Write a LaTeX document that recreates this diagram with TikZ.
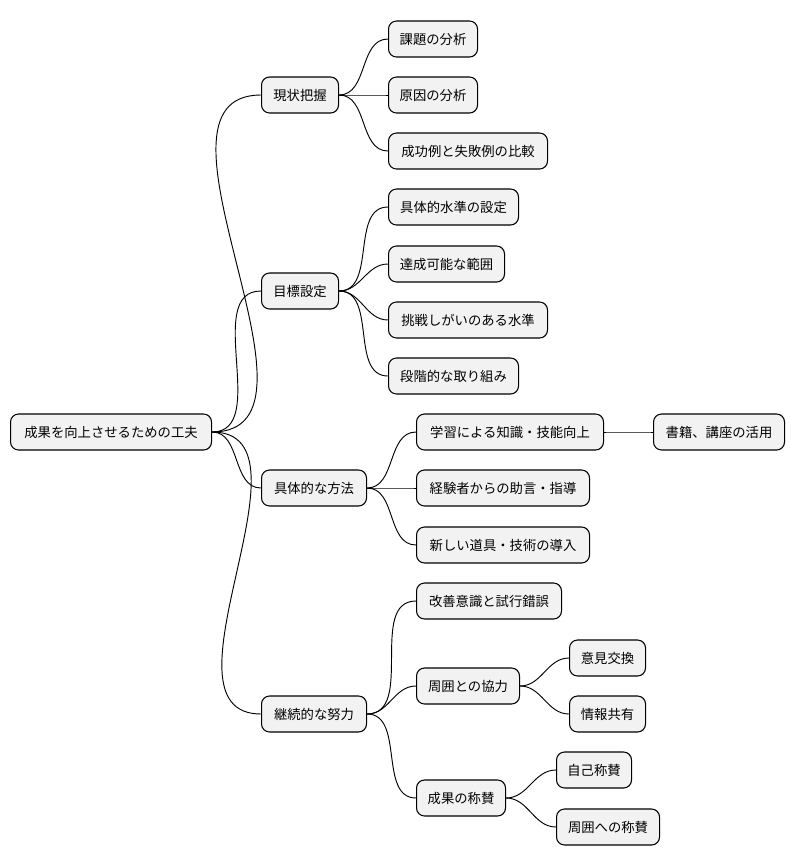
\documentclass[tikz,border=0pt]{standalone}
\usepackage{fontspec}
\setmainfont{Noto Sans CJK JP}
\begin{document}
\begin{tikzpicture}[x=0.75pt,y=-0.75pt,
  box/.style={draw=black,line width=0.8pt,fill=gray!10,rounded corners=6pt,minimum height=27pt,inner sep=0pt,anchor=west,font=\fontsize{10}{12}\selectfont},
  ln/.style={line width=0.7pt}]
\useasboundingbox (0,0) rectangle (796,865);
\newcommand{\bx}[5]{\node[box,minimum width=#4*0.75pt] (#1) at (#2,#3) {#5};}
\bx{r}{10}{432}{201}{成果を向上させるための工夫}
\bx{a}{261}{95}{77}{現状把握}
\bx{b}{261}{291}{77}{目標設定}
\bx{c}{261}{488}{105}{具体的な方法}
\bx{d}{261}{714}{105}{継続的な努力}
\bx{a1}{388}{39}{89}{課題の分析}
\bx{a2}{388}{95}{89}{原因の分析}
\bx{a3}{388}{151}{159}{成功例と失敗例の比較}
\bx{b1}{388}{207}{130}{具体的水準の設定}
\bx{b2}{388}{264}{116}{達成可能な範囲}
\bx{b3}{388}{320}{159}{挑戦しがいのある水準}
\bx{b4}{388}{376}{130}{段階的な取り組み}
\bx{c1}{416}{432}{187}{学習による知識・技能向上}
\bx{c2}{416}{488}{173}{経験者からの助言・指導}
\bx{c3}{416}{545}{173}{新しい道具・技術の導入}
\bx{c11}{653}{432}{131}{書籍、講座の活用}
\bx{d1}{416}{601}{145}{改善意識と試行錯誤}
\bx{d2}{416}{686}{103}{周囲との協力}
\bx{d3}{416}{798}{89}{成果の称賛}
\bx{d21}{569}{658}{76}{意見交換}
\bx{d22}{569}{714}{76}{情報共有}
\bx{d31}{556}{770}{75}{自己称賛}
\bx{d32}{556}{827}{103}{周囲への称賛}
\foreach \p/\c in {r/a,r/b,r/c,r/d,a/a1,a/a2,a/a3,b/b1,b/b2,b/b3,b/b4,c/c1,c/c2,c/c3,c1/c11,d/d1,d/d2,d/d3,d2/d21,d2/d22,d3/d31,d3/d32}
  \draw[ln] (\p.east) to[out=0,in=180] (\c.west);
\end{tikzpicture}
\end{document}
